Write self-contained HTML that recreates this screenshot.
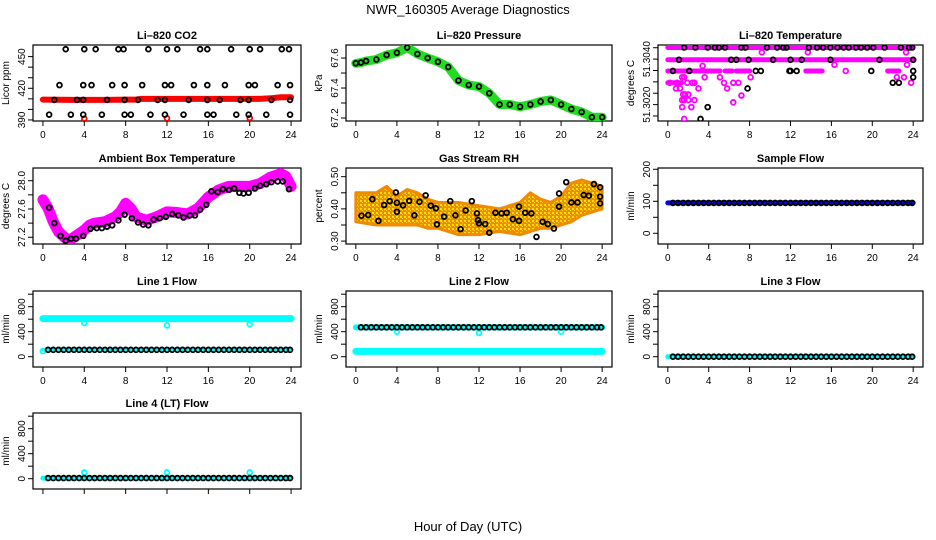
<!DOCTYPE html>
<html><head><meta charset="utf-8"><style>
html,body{margin:0;padding:0;background:#fff;}
svg{display:block;font-family:"Liberation Sans",Arial,sans-serif;}
.t{font-size:11px;font-weight:bold;text-anchor:middle;}
.tk{font-size:10px;}
</style></head><body>
<svg id="chart" width="936" height="540" viewBox="0 0 936 540">
<defs>
<pattern id="rhpat" width="4" height="4" patternUnits="userSpaceOnUse">
<rect width="4" height="4" fill="#f08a00"/><rect width="2" height="2" fill="#ffe000"/><rect x="2" y="2" width="1" height="1" fill="#ffd000"/>
</pattern>
</defs>
<text x="468" y="14" font-size="13" text-anchor="middle">NWR_160305  Average Diagnostics</text>
<text x="468" y="531" font-size="13" text-anchor="middle">Hour of Day (UTC)</text>
</svg>
<script>
// ---------- data ----------
const xTicks = [0,4,8,12,16,20,24];
const halfHours = [0.5,1,1.5,2,2.5,3,3.5,4,4.5,5,5.5,6,6.5,7,7.5,8,8.5,9,9.5,10,10.5,11,11.5,12,12.5,13,13.5,14,14.5,15,15.5,16,16.5,17,17.5,18,18.5,19,19.5,20,20.5,21,21.5,22,22.5,23,23.5,23.9];
const dipHours = [4,12,20];

// CO2
const co2RedHours = [0,3,6,9,9.5,12,15,18,21,22,23,24];
const co2RedVals = [409.3,409,409,409.3,410,410,410,410,410,410.5,411.5,411.5];
const co2RedDips = [391.2,391.5,391.8];
const co2BlkHours = [2.2,4,5.1,7.3,7.8,10.2,12,13,15.2,15.9,18.2,20,21,23.1,23.8, 1.6,3.9,4.7,6.7,7.9,9.6,11.8,12.4,14.6,15.9,17.6,19.9,20.5,22.7,23.9, 1.1,3.3,3.9,6.2,7.9,9.2,11.1,11.8,14.1,15.9,17.1,19.1,19.9,22.1,23.9, 0.6,2.7,3.9,5.7,7.9,8.5,10.4,11.8,13.6,15.9,16.5,18.7,19.9,21.6,23.9];
const co2BlkVals = [457,457,457,457,457,457,457,457,457,457,457,457,457,457,457, 423,423,423,423,423,423,423,423,423,423,423,423,423,423,423, 409,409,409,409,409,409,409,409,409,409,409,409,409,409,409, 395,395,395,395,395,395,395,395,395,395,395,395,395,395,395];

// Pressure
const presHours = [0,0.5,1,2,3,4,5,6,7,8,9,10,11,12,13,14,15,16,17,18,19,20,21,22,23,24];
const presVals = [67.565,67.57,67.58,67.59,67.62,67.635,67.67,67.627,67.6,67.575,67.54,67.45,67.42,67.41,67.365,67.29,67.29,67.275,67.29,67.31,67.32,67.29,67.26,67.24,67.205,67.205];

// Li-820 temperature
const tempBandStart = [0,0,0,1.35,2.55,5.6,6.7,13.5,21.5,0];
const tempBandEnd = [24,24,1.2,2.3,5.1,6.3,8.0,15.1,22.6,1.35];
const tempBandLevel = [51.30451,51.30397,51.30348,51.30348,51.30348,51.30348,51.30348,51.30348,51.30348,51.30296];
const tempMagHours = [0.2,0.9,1.4,1.6,1.9,0.8,1.2,1.5,1.7,2.0,1.4,1.6,2.0,2.6,1.4,2.3,1.6,3.0,2.4,2.6,3.4,3.6,5.1,5.5,5.8,6.4,6.9,7.2,6.4,8.1,9.2,13.7,16.3,17.4,22.4,23.1,23.3,23.4,23.8];
const tempMagVals = [51.30296,51.30296,51.3032,51.3032,51.30296,51.30271,51.30271,51.30245,51.30245,51.30245,51.3022,51.3022,51.3022,51.3022,51.30189,51.30189,51.30137,51.30271,51.30296,51.30296,51.3037,51.3032,51.3032,51.30296,51.30271,51.30296,51.30296,51.3024,51.3021,51.3032,51.3043,51.3043,51.30375,51.30348,51.3032,51.3032,51.3043,51.30375,51.30296];
const tempBlkHours = [1.6,2.7,3.9,4.6,5.0,5.6,7.2,7.6,9.7,10.7,11.3,11.6,13.8,14.6,15.2,15.9,16.6,17.2,17.7,18.4,18.9,19.5,20.1,21.2,22.8,23.6,23.9, 1.1,6.2,6.7,7.9,10.3,12.0,13.1,15.9,20.7,24.0, 0.5,2.1,8.6,9.1,11.9,12.0,12.6,19.9,24.0, 24.0,22.0,22.6,7.8,3.9,3.2];
const tempBlkVals = [51.30451,51.30451,51.30451,51.30451,51.30451,51.30451,51.30451,51.30451,51.30451,51.30451,51.30451,51.30451,51.30451,51.30451,51.30451,51.30451,51.30451,51.30451,51.30451,51.30451,51.30451,51.30451,51.30451,51.30451,51.30451,51.30451,51.30451, 51.30397,51.30397,51.30397,51.30397,51.30397,51.30397,51.30397,51.30397,51.30397,51.30397, 51.30348,51.30348,51.30348,51.30348,51.30348,51.30348,51.30348,51.30348,51.30348, 51.3032,51.30296,51.30296,51.30271,51.30189,51.30137];

// Ambient box temperature
const ambHours = [0,0.5,1,1.5,2,2.5,3,4,4.5,5,6,7,7.5,8,8.5,9,10,11,12,13,14,15,16,17,18,19,20,21,22,23,23.5,24];
const ambVals = [27.73,27.61,27.42,27.28,27.21,27.16,27.2,27.3,27.37,27.4,27.42,27.49,27.56,27.68,27.61,27.49,27.44,27.49,27.56,27.55,27.53,27.61,27.77,27.87,27.92,27.92,27.92,27.96,28.05,28.1,28.06,27.92];
const ambBlkHours = [0.6,1.1,1.7,2.2,2.7,3.2,3.9,4.6,5.2,5.7,6.2,6.7,7.3,7.9,8.6,9.2,9.7,10.2,10.7,11.3,11.9,12.5,13.1,13.6,14.2,14.7,15.2,15.8,16.3,16.9,17.4,18,18.5,19,19.4,19.9,20.5,21,21.6,22.1,22.7,23.2,23.8];
const ambBlkVals = [27.62,27.4,27.22,27.15,27.18,27.18,27.22,27.32,27.33,27.33,27.35,27.37,27.44,27.52,27.47,27.41,27.38,27.37,27.45,27.47,27.49,27.53,27.51,27.48,27.51,27.51,27.59,27.66,27.85,27.84,27.88,27.87,27.89,27.83,27.82,27.83,27.89,27.93,27.95,27.98,27.99,27.99,27.88];

// Gas stream RH
const rhEnvHours = [0,2,3,4,5,6,7,8,10,12,14,16,17,18,19,20,21,22,23,24];
const rhUpper = [0.45,0.45,0.47,0.44,0.46,0.45,0.43,0.42,0.42,0.41,0.40,0.42,0.45,0.43,0.42,0.44,0.48,0.49,0.48,0.47];
const rhLower = [0.36,0.35,0.35,0.35,0.35,0.35,0.34,0.34,0.32,0.32,0.33,0.32,0.33,0.34,0.34,0.35,0.36,0.38,0.39,0.40];
const rhBlkHours = [0.55,1.2,2.2,1.6,2.75,3.3,3.9,4.0,4.0,4.6,5.2,5.7,6.2,6.8,7.3,7.8,7.9,8.6,9.2,9.7,10.2,10.7,11.3,11.8,11.9,12,12.6,13.0,13.6,14.2,14.7,15.3,15.9,15.9,16.5,17.1,17.6,18.2,18.7,19.3,19.8,19.8,20.5,21.0,21.6,22.2,22.7,23.2,23.8,23.8,23.8];
const rhBlkVals = [0.379,0.381,0.363,0.430,0.412,0.424,0.451,0.419,0.391,0.411,0.425,0.380,0.422,0.442,0.410,0.402,0.352,0.376,0.424,0.380,0.337,0.395,0.424,0.386,0.365,0.355,0.353,0.326,0.388,0.386,0.388,0.368,0.407,0.363,0.388,0.386,0.313,0.360,0.353,0.339,0.448,0.407,0.483,0.420,0.420,0.443,0.441,0.477,0.467,0.417,0.438];

// Flows
const sampleBlue = 95, sampleBlack = 95;
const line1Cyan = 610, line1Black = 110, line1CyanStart = 90, line1Dips = [540,500,520];
const line2Cyan = 470, line2Black = 470, line2CyanLow = 85, line2Dips = [400,380,400];
const line3Cyan = 0, line3Black = 0;
const line4Cyan = 10, line4Black = 10, line4Dips = [100,100,100];

// ---------- layout ----------
const cols = [[33,301],[346,612],[658,923]];
const rows = [[45,121],[168,244],[291,367],[413,489]];
const svg = document.getElementById('chart');
const NS = 'http://www.w3.org/2000/svg';
function mk(tag, attrs, parent){const e=document.createElementNS(NS,tag);for(const k in attrs)e.setAttribute(k,attrs[k]);(parent||svg).appendChild(e);return e;}

function panel(name, c, r, title, ytitle, ymin, ymax, yticks, ylabels){
  const g = mk('g',{});
  
  
  const [x0,x1]=cols[c],[y0,y1]=rows[r];
  const sx = h => x0 + (h + 0.96) / 25.92 * (x1 - x0);
  const sy = v => y1 - (v - ymin) / (ymax - ymin) * (y1 - y0);
  const box = mk('rect',{x:x0,y:y0,width:x1-x0,height:y1-y0,fill:'none',stroke:'#000','stroke-width':1.2},g);
  
  
  const t = mk('text',{x:(x0+x1)/2,y:y0-6,class:'t'},g); t.textContent=title;
  
  
  const yt = mk('text',{x:0,y:0,'font-size':10,'text-anchor':'middle',transform:`translate(${x0-24},${(y0+y1)/2}) rotate(-90)`},g); yt.textContent=ytitle;
  
  
  const xa = mk('g',{},g);
  
  
  mk('line',{x1:sx(xTicks[0]),x2:sx(xTicks[xTicks.length-1]),y1:y1,y2:y1,stroke:'#000'},xa);
  xTicks.forEach(h=>{mk('line',{x1:sx(h),x2:sx(h),y1:y1,y2:y1+5,stroke:'#000'},xa);
    if(r<3){const l=mk('text',{x:sx(h),y:y1+17,class:'tk','text-anchor':'middle'},xa);l.textContent=h;}});
  const ya = mk('g',{},g);
  
  
  yticks.forEach(v=>mk('line',{x1:x0-5,x2:x0,y1:sy(v),y2:sy(v),stroke:'#000'},ya));
  ylabels.forEach(v=>{const l=mk('text',{x:0,y:0,class:'tk','text-anchor':'middle',transform:`translate(${x0-8},${sy(v)}) rotate(-90)`},ya);l.textContent=v;});
  const clip = 'clip-'+name;
  const cp = mk('clipPath',{id:clip},g); mk('rect',{x:x0,y:y0,width:x1-x0,height:y1-y0},cp);
  const d = mk('g',{'clip-path':`url(#${clip})`},g);
  
  
  return {sx,sy,g:d};
}
function circ(p,h,v,col,nm,r){const e=mk('circle',{cx:p.sx(h),cy:p.sy(v),r:r||2.4,fill:'none',stroke:col,'stroke-width':1.8},p.g);
  
  }
function poly(p,hs,vs,col,w,nm){const e=mk('polyline',{points:hs.map((h,i)=>p.sx(h)+','+p.sy(vs[i])).join(' '),fill:'none',stroke:col,'stroke-width':w,'stroke-linejoin':'round','stroke-linecap':'round'},p.g);
  
  }

let p = panel('co2',0,0,'Li\u2013820 CO2','Licor ppm',389,461,[390,400,410,420,430,440,450],['390','420','450']);
poly(p,co2RedHours,co2RedVals,'#f00',6,'co2-red-band');
dipHours.forEach((h,i)=>circ(p,h,co2RedDips[i],'#f00','co2-red-point'));
co2BlkHours.forEach((h,i)=>circ(p,h,co2BlkVals[i],'#000','co2-black-point'));

p = panel('pressure',1,0,'Li\u2013820 Pressure','kPa',67.18,67.687,[67.2,67.3,67.4,67.5,67.6],['67.2','67.4','67.6']);
poly(p,presHours,presVals,'#22dd22',9,'pressure-green-band');
presHours.forEach((h,i)=>circ(p,h,presVals[i],'#000','pressure-point'));

p = panel('li820-temp',2,0,'Li\u2013820 Temperature','degrees C',51.30128,51.30462,[51.3015,51.302,51.3025,51.303,51.3035,51.304,51.3045],['51.3020','51.3040']);
tempBandStart.forEach((s,i)=>poly(p,[s,tempBandEnd[i]],[tempBandLevel[i],tempBandLevel[i]],'#ff00ff',5,'temp-magenta-band'));
tempMagHours.forEach((h,i)=>circ(p,h,tempMagVals[i],'#ff00ff','temp-magenta-point'));
tempBlkHours.forEach((h,i)=>circ(p,h,tempBlkVals[i],'#000','temp-black-point'));

p = panel('ambient-temp',0,1,'Ambient Box Temperature','degrees C',27.105,28.18,[27.2,27.4,27.6,27.8,28.0],['27.2','27.6','28.0']);
poly(p,ambHours,ambVals,'#ff00ff',11,'ambient-magenta-band');
ambBlkHours.forEach((h,i)=>circ(p,h,ambBlkVals[i],'#000','ambient-black-point'));

p = panel('rh',1,1,'Gas Stream RH','percent',0.291,0.527,[0.30,0.35,0.40,0.45,0.50],['0.30','0.40','0.50']);
{const pts = rhEnvHours.map((h,i)=>p.sx(h)+','+p.sy(rhUpper[i])).concat(rhEnvHours.slice().reverse().map((h,i)=>p.sx(h)+','+p.sy(rhLower[rhLower.length-1-i])));
 const e=mk('polygon',{points:pts.join(' '),fill:'url(#rhpat)',stroke:'#f08a00','stroke-width':3,'stroke-linejoin':'round'},p.g);
 
 }
rhBlkHours.forEach((h,i)=>circ(p,h,rhBlkVals[i],'#000','rh-black-point'));

p = panel('sample-flow',2,1,'Sample Flow','ml/min',-33.4,204,[0,50,100,150,200],['0','100','200']);
poly(p,[0,24],[sampleBlue,sampleBlue],'#0000ff',5,'sample-blue-band');
halfHours.forEach(h=>circ(p,h,sampleBlack,'#000','sample-black-point'));

const fT=[0,200,400,600,800,1000], fL=['0','400','800'];
p = panel('line1-flow',0,2,'Line 1 Flow','ml/min',-165,1051,fT,fL);
poly(p,[0,24],[line1Cyan,line1Cyan],'#00ffff',7,'line1-cyan-band');
circ(p,0,line1CyanStart,'#00ffff','line1-cyan-point');
poly(p,[0,24],[line1Black,line1Black],'#00ffff',3,'line1-cyan-low');
dipHours.forEach((h,i)=>circ(p,h,line1Dips[i],'#00ffff','line1-cyan-dip'));
halfHours.forEach(h=>circ(p,h,line1Black,'#000','line1-black-point'));

p = panel('line2-flow',1,2,'Line 2 Flow','ml/min',-165,1051,fT,fL);
poly(p,[0,24],[line2Cyan,line2Cyan],'#00ffff',6,'line2-cyan-band');
poly(p,[0,24],[line2CyanLow,line2CyanLow],'#00ffff',7,'line2-cyan-low');
dipHours.forEach((h,i)=>circ(p,h,line2Dips[i],'#00ffff','line2-cyan-dip'));
halfHours.forEach(h=>circ(p,h,line2Black,'#000','line2-black-point'));

p = panel('line3-flow',2,2,'Line 3 Flow','ml/min',-165,1051,fT,fL);
poly(p,[0,24],[line3Cyan,line3Cyan],'#00ffff',5,'line3-cyan-band');
halfHours.forEach(h=>circ(p,h,line3Black,'#000','line3-black-point'));

p = panel('line4-flow',0,3,'Line 4 (LT) Flow','ml/min',-165,1051,fT,fL);
poly(p,[0,24],[line4Cyan,line4Cyan],'#00ffff',5,'line4-cyan-band');
dipHours.forEach((h,i)=>circ(p,h,line4Dips[i],'#00ffff','line4-cyan-dip'));
halfHours.forEach(h=>circ(p,h,line4Black,'#000','line4-black-point'));
</script>
</body></html>
